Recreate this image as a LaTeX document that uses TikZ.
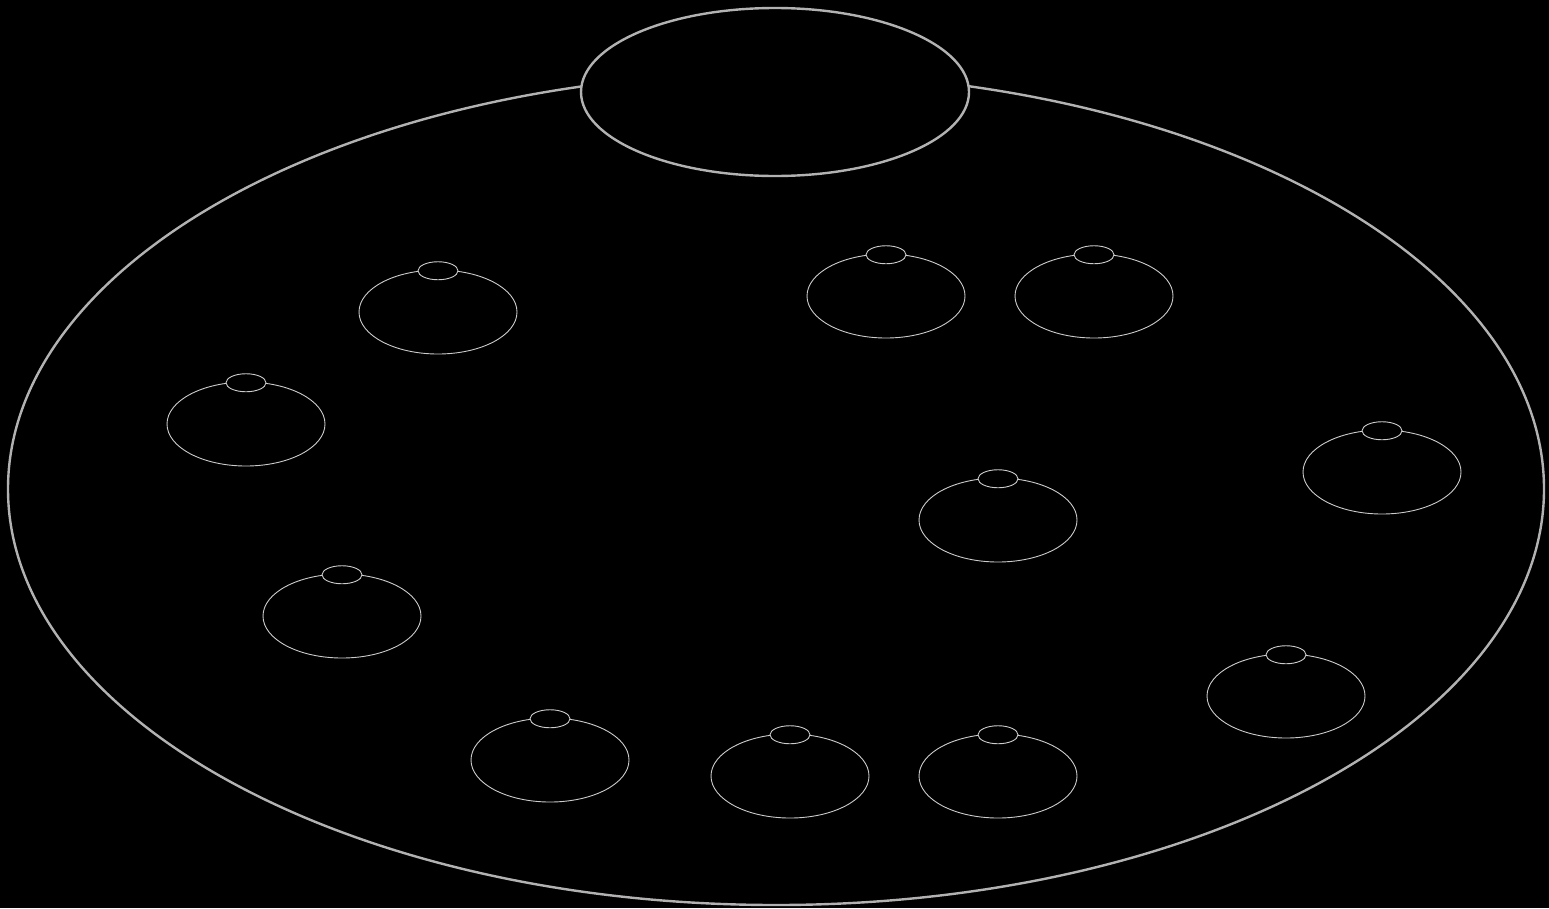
\documentclass[tikz,border=0pt]{standalone}
\usetikzlibrary{shapes.geometric}
\begin{document}
\begin{tikzpicture}[x=1pt,y=-1pt,
  bigell/.style={ellipse,draw=black!30!white,line width=2.4pt,fill=black,inner sep=0pt},
  pot/.style={ellipse,draw=black!20!white,line width=0.9pt,fill=black,inner sep=0pt,minimum width=158pt,minimum height=84pt},
  lid/.style={ellipse,draw=black!20!white,line width=0.9pt,fill=black,inner sep=0pt,minimum width=40pt,minimum height=18pt}]
\fill[black] (0,0) rectangle (1549,908);
\useasboundingbox (0,0) rectangle (1549,908);
\node[bigell,minimum width=1536pt,minimum height=832pt] (outer) at (776,489) {};
\node[bigell,minimum width=388pt,minimum height=168pt] (top) at (775,92) {};
\foreach \n/\x/\y in {a/438/312, b/246/424, c/342/616, d/550/760, e/790/776, f/998/776, g/1286/696, h/1382/472, i/998/520, j/886/296, k/1094/296} {
  \node[pot] (\n) at (\x,\y) {};
  \node[lid] (\n l) at ([yshift=-1.2pt]\n.north) {};
}
\end{tikzpicture}
\end{document}
